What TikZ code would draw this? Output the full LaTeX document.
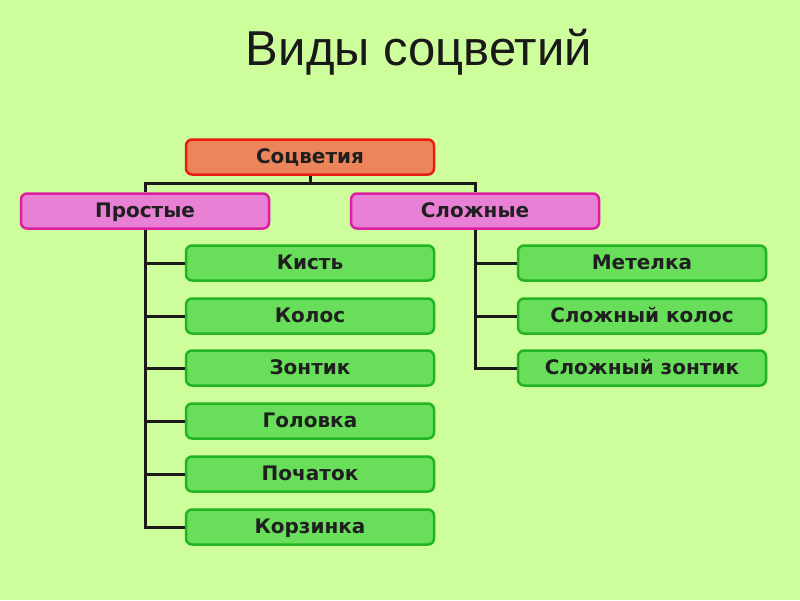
\documentclass[tikz,border=0pt]{standalone}
\usepackage{fontspec}
\setmainfont{Liberation Sans}
\newfontfamily\boxfont{DejaVu Sans}
\definecolor{bg}{RGB}{206,254,156}
\definecolor{orfill}{RGB}{236,134,90}
\definecolor{ordraw}{RGB}{232,30,20}
\definecolor{pkfill}{RGB}{232,128,214}
\definecolor{pkdraw}{RGB}{222,30,160}
\definecolor{grfill}{RGB}{104,222,90}
\definecolor{grdraw}{RGB}{34,180,34}
\tikzset{
  box/.style={rectangle, rounded corners=6pt, line width=2.5pt, minimum width=248pt, minimum height=35pt, inner sep=0pt, text height=15pt, text depth=3pt, font=\boxfont\fontsize{20}{22}\selectfont\bfseries, text=black!88},
  rootbox/.style={box, fill=orfill, draw=ordraw},
  midbox/.style={box, fill=pkfill, draw=pkdraw},
  leafbox/.style={box, fill=grfill, draw=grdraw},
  conn/.style={line width=3pt, black!90}
}
\begin{document}
\begin{tikzpicture}[x=1pt,y=-1pt]
\fill[bg] (0,0) rectangle (800,600);
\useasboundingbox (0,0) rectangle (800,600);
\node[font=\fontsize{49}{52}\selectfont, text=black!90, anchor=base] (title) at (419,65) {Виды соцветий};
\node[rootbox] (root) at (310,157) {Соцветия};
\node[midbox] (pr) at (145,211) {Простые};
\node[midbox] (sl) at (475,211) {Сложные};
\foreach \n/\t/\y in {k1/Кисть/263, k2/Колос/316, k3/Зонтик/368, k4/Головка/421, k5/Початок/474, k6/Корзинка/527}{
  \node[leafbox] (\n) at (310,\y) {\t};
}
\foreach \n/\t/\y in {s1/Метелка/263, s2/Сложный колос/316, s3/Сложный зонтик/368}{
  \node[leafbox] (\n) at (642,\y) {\t};
}
\coordinate (bar) at (310,183);
\draw[conn] (root.south) -- (bar);
\draw[conn] (pr.north) |- (bar) -| (sl.north);
\foreach \n in {k1,k2,k3,k4,k5,k6}{
  \draw[conn] (pr.south) |- (\n.west);
}
\foreach \n in {s1,s2,s3}{
  \draw[conn] (sl.south) |- (\n.west);
}
\end{tikzpicture}
\end{document}
